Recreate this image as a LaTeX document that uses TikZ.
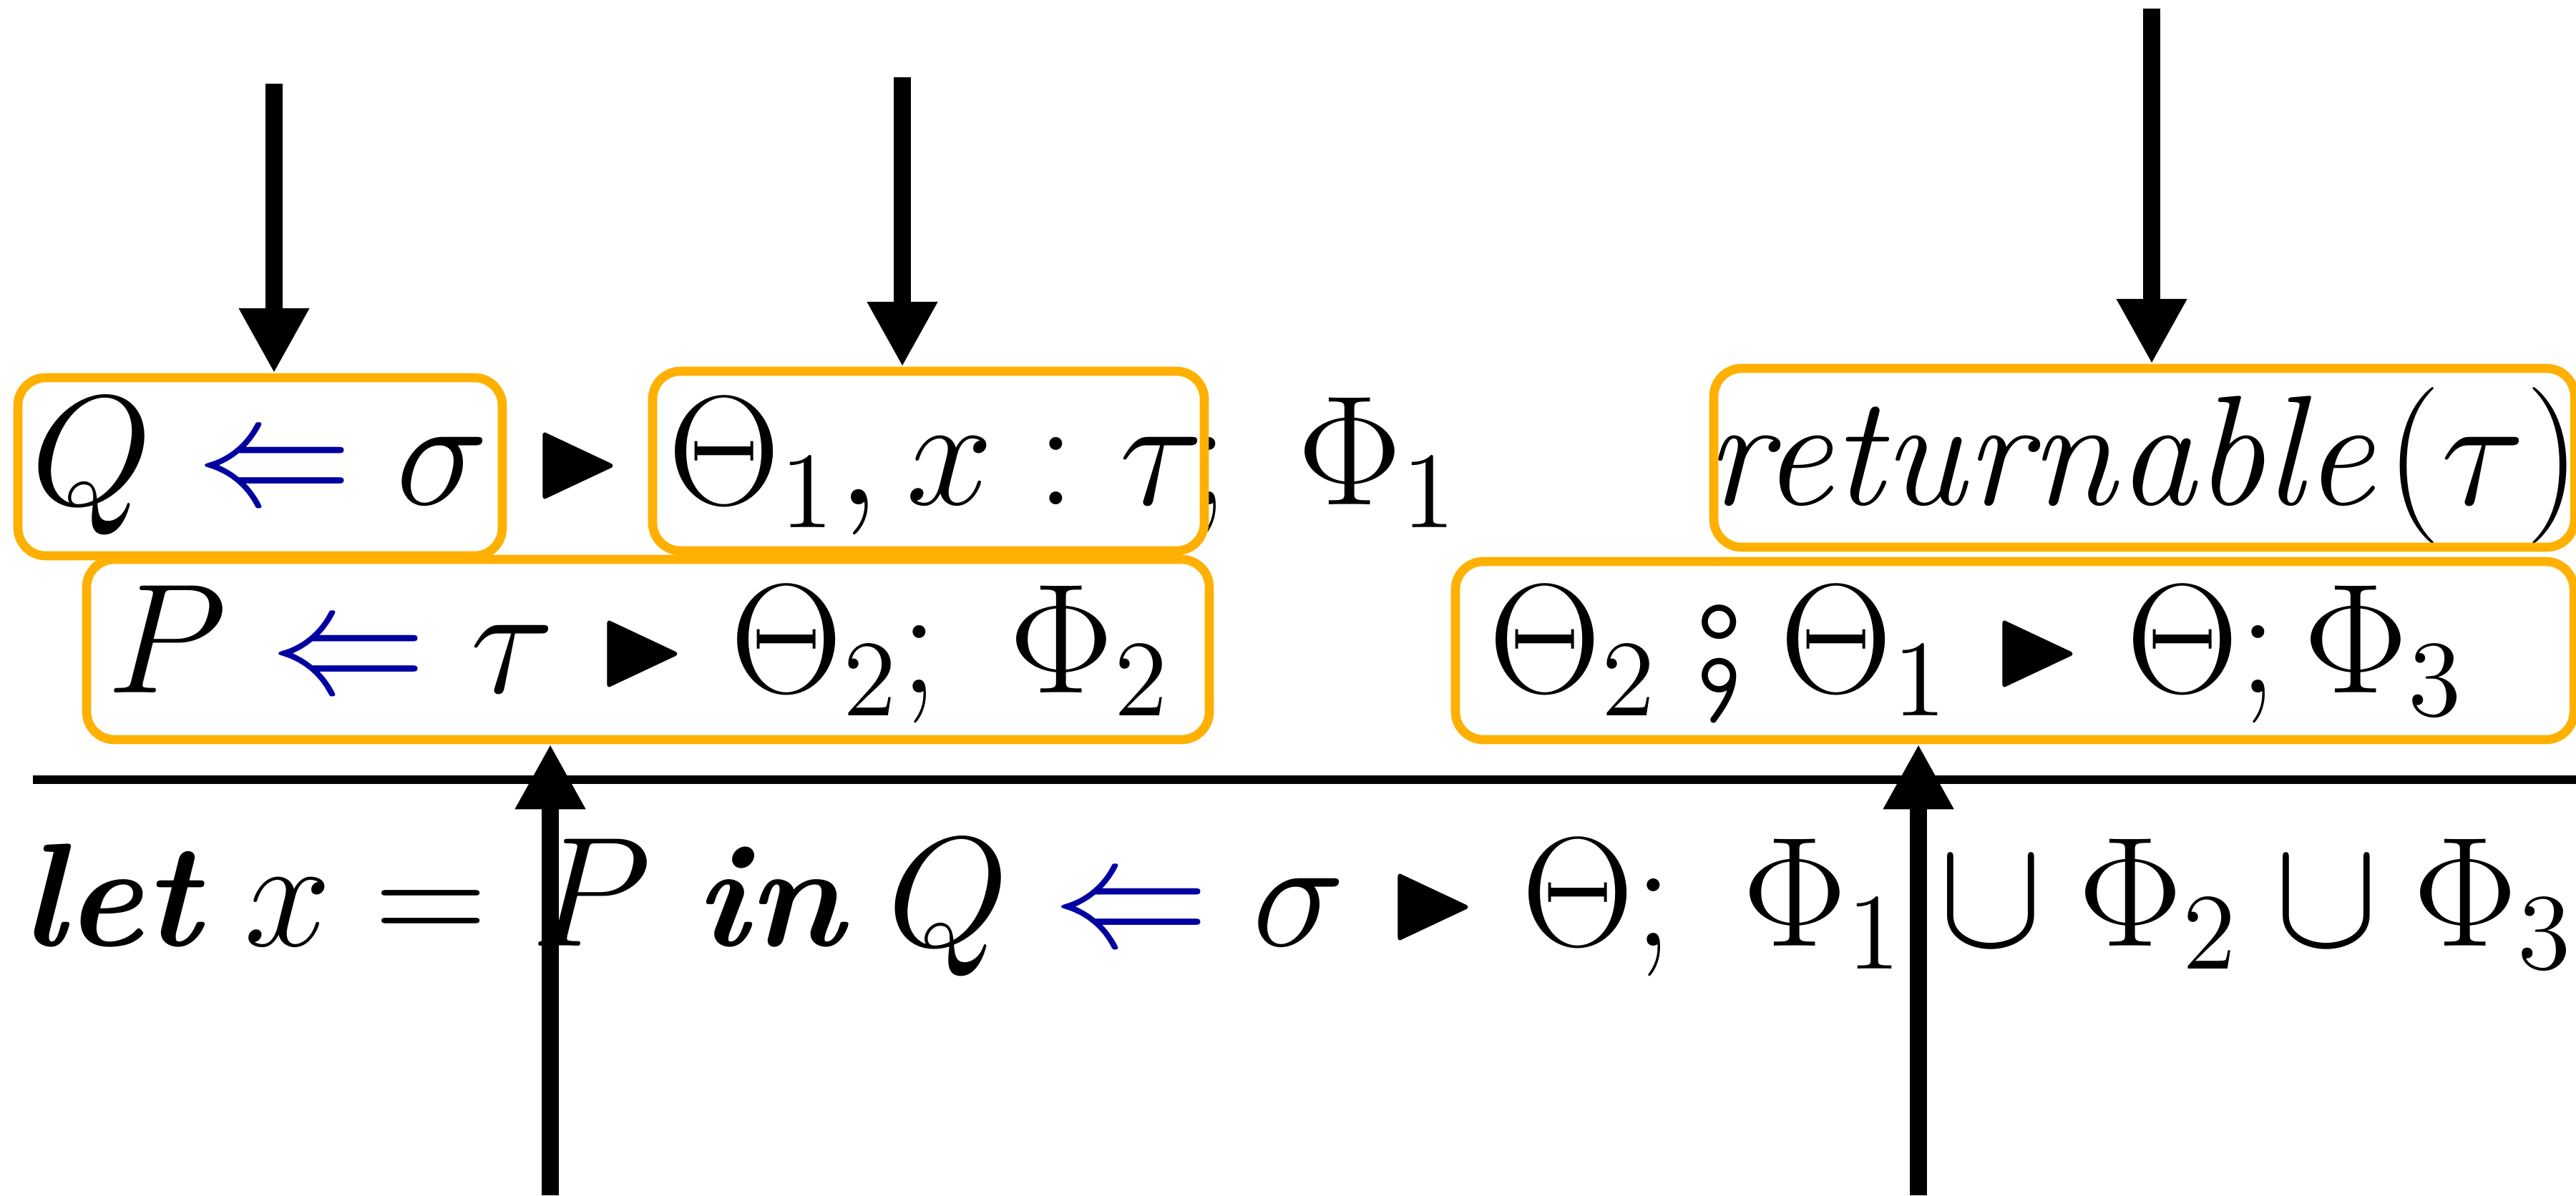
\documentclass[tikz,border=0pt]{standalone}
\usepackage{amsmath,amssymb,stmaryrd}
\usetikzlibrary{arrows.meta, fit}
\definecolor{hlorange}{RGB}{255,176,0}
\definecolor{judgblue}{RGB}{0,0,160}
\newcommand{\chk}{\mathrel{\textcolor{judgblue}{\Leftarrow}}}
\newcommand{\yields}{\mathrel{\vcenter{\hbox{\scalebox{0.78}{$\blacktriangleright$}}}}}
\newcommand{\kw}[1]{\text{\bfseries\itshape #1}}
\begin{document}
\begin{tikzpicture}[x=3.3333mm,y=3.3333mm,>={Triangle[length=3.03mm,width=3.07mm]},note/.style={->, line width=2.3pt},hl/.style={draw=hlorange, line width=1.2pt, rounded corners=1.3mm, inner sep=0pt},judg/.style={inner sep=0pt, anchor=base, font=\fontsize{19.5}{24}\selectfont},rule/.style={line width=1.2pt}]
\useasboundingbox (0,0) rectangle (36,16.71);
\node[judg] (chkQ) at (3.635,9.66) {$Q \chk \sigma$};
\node[judg] (tri1) at (8.08,9.66) {$\yields$};
\node[judg] (ctx1) at (13.075,9.66) {$\Theta_1, x : \tau$};
\node[judg, anchor=base west] (eff1) at (16.6,9.66) {$;\;\Phi_1$};
\node[judg] (ret) at (29.95,9.66) {$\mathit{returnable}(\tau)$};
\node[judg] (chkP) at (8.93,7.03) {$P \chk \tau \yields \Theta_2;\ \Phi_2$};
\node[judg] (seq) at (27.63,7.03) {$\Theta_2 \fatsemi \Theta_1 \yields \Theta; \Phi_3$};
\node[judg] (concl) at (18.14,3.49) {$\kw{let}\ x = P\ \kw{in}\ Q \chk \sigma \yields \Theta;\;\Phi_1 \cup \Phi_2 \cup \Phi_3$};
\draw[rule] (0.46,5.81) -- (36,5.81);
\node[hl, fit={(0.25,8.94) (7.02,11.43)}] (boxQ) {};
\node[hl, fit={(9.12,9.01) (16.83,11.52)}] (boxCtx) {};
\node[hl, fit={(1.21,6.37) (16.90,8.89)}] (boxP) {};
\node[hl, fit={(23.95,9.06) (35.98,11.56)}] (boxRet) {};
\node[hl, fit={(20.34,6.37) (35.97,8.86)}] (boxSeq) {};
\coordinate (a1) at (3.83,15.54); \coordinate (a2) at (12.61,15.63); \coordinate (a3) at (30.07,16.59);
\coordinate (a4) at (7.69,0); \coordinate (a5) at (26.81,0);
\draw[note] (a1) -- (a1 |- boxQ.north); \draw[note] (a2) -- (a2 |- boxCtx.north); \draw[note] (a3) -- (a3 |- boxRet.north);
\draw[note] (a4) -- (a4 |- boxP.south); \draw[note] (a5) -- (a5 |- boxSeq.south);
\end{tikzpicture}
\end{document}
